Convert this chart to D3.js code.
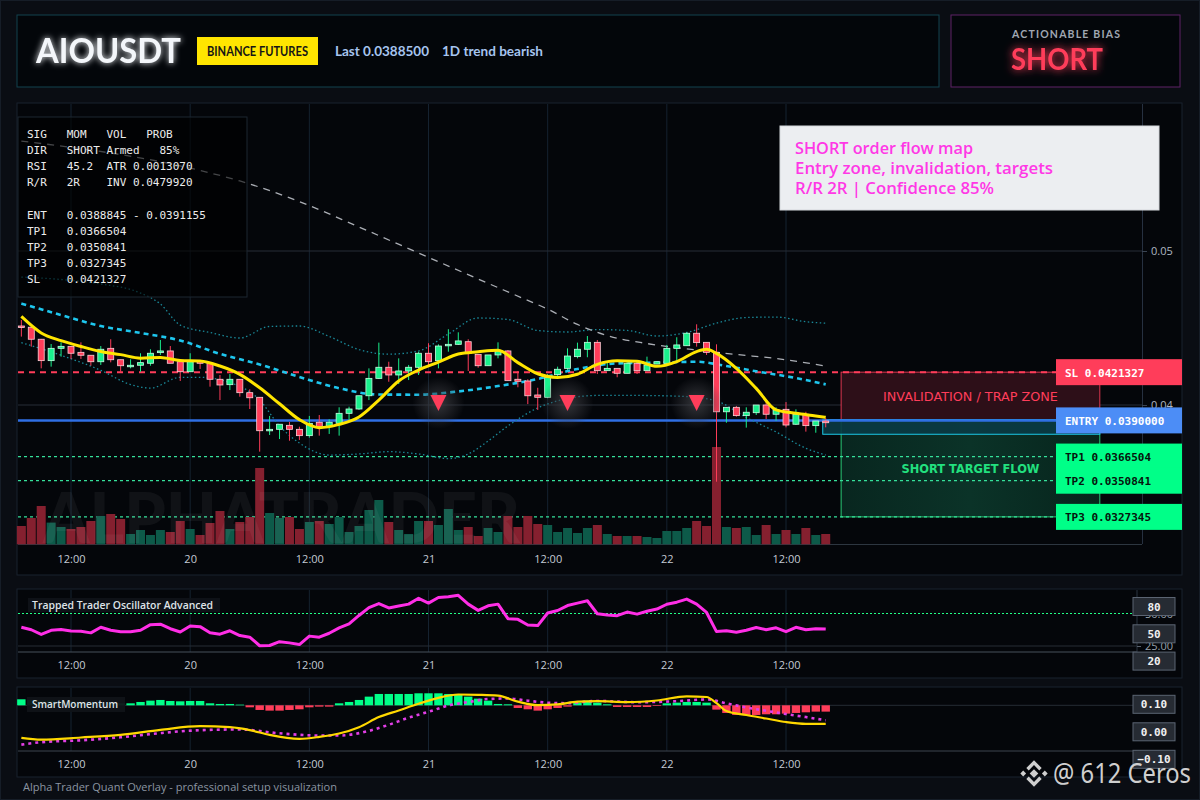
<!DOCTYPE html>
<html>
<head>
<meta charset="utf-8">
<script src="https://cdn.jsdelivr.net/npm/d3@7"></script>
<style>
  body { margin: 0; background: #0a0d13; }
  svg text { font-family: "Open Sans", "DejaVu Sans", sans-serif; }
</style>
</head>
<body>
<div id="chart"></div>
<script>
// hourly candles, 19th 07:00 -> 22nd 16:00
var opens = [0.04513,0.04505,0.04427,0.04288,0.04368,0.04381,0.04342,0.04323,0.04281,0.04368,0.04294,0.04255,0.04258,0.04271,0.04340,0.04351,0.04281,0.04216,0.04286,0.04271,0.04167,0.04132,0.04167,0.04080,0.04050,0.03838,0.03842,0.03868,0.03842,0.03801,0.03888,0.03859,0.03881,0.03946,0.03974,0.04060,0.04173,0.04245,0.04195,0.04221,0.04245,0.04336,0.04288,0.04385,0.04394,0.04411,0.04329,0.04255,0.04325,0.04351,0.04167,0.04156,0.04065,0.04050,0.04197,0.04238,0.04314,0.04362,0.04407,0.04223,0.04238,0.04206,0.04271,0.04223,0.04266,0.04271,0.04368,0.04385,0.04466,0.04407,0.04342,0.03956,0.03985,0.03931,0.03950,0.04000,0.03940,0.03972,0.03875,0.03940,0.03866,0.03896];
var highs = [0.04552,0.04506,0.04429,0.04396,0.04407,0.04381,0.04407,0.04323,0.04383,0.04427,0.04294,0.04297,0.04336,0.04362,0.04422,0.04383,0.04281,0.04336,0.04286,0.04271,0.04195,0.04201,0.04167,0.04102,0.04050,0.03929,0.03875,0.03890,0.03859,0.03929,0.03935,0.03907,0.03985,0.03989,0.04060,0.04238,0.04405,0.04281,0.04303,0.04260,0.04346,0.04401,0.04394,0.04492,0.04472,0.04427,0.04329,0.04325,0.04407,0.04357,0.04221,0.04167,0.04112,0.04201,0.04249,0.04368,0.04405,0.04448,0.04422,0.04277,0.04238,0.04281,0.04281,0.04314,0.04281,0.04390,0.04440,0.04472,0.04524,0.04407,0.04394,0.03985,0.03994,0.03985,0.04000,0.04032,0.03985,0.04019,0.03972,0.03956,0.03896,0.03914];
var lows = [0.04444,0.04379,0.04238,0.04249,0.04314,0.04299,0.04299,0.04255,0.04260,0.04277,0.04216,0.04238,0.04216,0.04255,0.04325,0.04271,0.04156,0.04216,0.04234,0.04119,0.04032,0.04097,0.04054,0.03974,0.03697,0.03805,0.03779,0.03768,0.03773,0.03788,0.03801,0.03812,0.03801,0.03903,0.03968,0.04032,0.04169,0.04151,0.04136,0.04162,0.04195,0.04249,0.04238,0.04346,0.04390,0.04221,0.04242,0.04255,0.04303,0.04158,0.04115,0.04006,0.03968,0.04044,0.04188,0.04227,0.04303,0.04310,0.04201,0.04223,0.04180,0.04206,0.04201,0.04223,0.04266,0.04266,0.04288,0.04385,0.04379,0.04325,0.03502,0.03885,0.03924,0.03853,0.03935,0.03909,0.03898,0.03855,0.03870,0.03827,0.03820,0.03855];
var closes = [0.04505,0.04427,0.04288,0.04368,0.04381,0.04336,0.04323,0.04281,0.04362,0.04294,0.04255,0.04258,0.04275,0.04336,0.04351,0.04271,0.04216,0.04281,0.04271,0.04167,0.04130,0.04167,0.04080,0.04047,0.03833,0.03842,0.03875,0.03842,0.03801,0.03881,0.03859,0.03888,0.03946,0.03974,0.04060,0.04173,0.04245,0.04195,0.04221,0.04245,0.04336,0.04281,0.04383,0.04394,0.04416,0.04336,0.04255,0.04325,0.04351,0.04158,0.04154,0.04060,0.04050,0.04180,0.04232,0.04318,0.04362,0.04407,0.04223,0.04238,0.04206,0.04271,0.04223,0.04260,0.04281,0.04368,0.04390,0.04466,0.04405,0.04342,0.03956,0.03985,0.03931,0.03953,0.04000,0.03940,0.03968,0.03870,0.03940,0.03866,0.03896,0.03885];
var volumes = [183,263,383,217,173,153,173,233,283,303,253,103,143,93,143,123,233,153,93,213,333,153,223,273,763,313,263,273,153,223,233,203,273,123,183,343,443,223,143,103,233,233,193,353,143,173,83,163,123,283,173,283,203,193,123,163,113,163,193,103,83,83,83,73,63,133,133,163,233,183,973,173,163,173,93,193,103,143,103,163,93,103];

// overlays: [candle index, price]
var emaFast = [[0,0.04575],[2,0.04468],[4,0.04418],[6,0.04380],[8,0.04347],[10,0.04327],[12,0.04304],[14,0.04309],[16,0.04289],[18,0.04286],[20,0.04253],[22,0.04199],[24,0.04112],[26,0.04008],[28,0.03905],[30,0.03853],[32,0.03874],[34,0.03922],[36,0.04032],[38,0.04156],[40,0.04227],[42,0.04278],[44,0.04331],[46,0.04346],[48,0.04356],[50,0.04275],[52,0.04203],[54,0.04179],[56,0.04200],[58,0.04264],[60,0.04287],[62,0.04284],[64,0.04251],[66,0.04282],[68,0.04347],[69,0.04362],[70,0.04335],[72,0.04238],[74,0.04108],[76,0.03968],[78,0.03946],[80,0.03929],[81,0.03920]];
var emaSlow = [[0,0.04659],[4,0.04584],[8,0.04513],[12,0.04468],[16,0.04419],[20,0.04332],[24,0.04263],[28,0.04182],[32,0.04109],[36,0.04068],[40,0.04067],[44,0.04088],[48,0.04123],[52,0.04169],[56,0.04234],[60,0.04270],[64,0.04275],[68,0.04281],[71,0.04253],[74,0.04219],[78,0.04175],[81,0.04134]];
var bandUpper = [[0,0.04831],[4,0.04815],[8,0.04786],[12,0.04727],[14,0.04656],[16,0.04519],[19,0.04471],[22,0.04435],[25,0.04510],[28,0.04513],[31,0.04445],[34,0.04360],[37,0.04330],[40,0.04351],[43,0.04461],[46,0.04565],[49,0.04555],[52,0.04484],[55,0.04474],[58,0.04490],[61,0.04484],[64,0.04448],[67,0.04471],[70,0.04532],[73,0.04568],[76,0.04571],[79,0.04541],[81,0.04531]];
var bandLower = [[0,0.04405],[4,0.04323],[8,0.04225],[11,0.04133],[13,0.04110],[16,0.04180],[18,0.04180],[21,0.04146],[24,0.04032],[26,0.03864],[28,0.03753],[31,0.03675],[34,0.03682],[37,0.03697],[40,0.03682],[43,0.03652],[45,0.03682],[47,0.03766],[49,0.03864],[52,0.03981],[55,0.04042],[58,0.04062],[62,0.04062],[67,0.04055],[70,0.04026],[73,0.03919],[76,0.03825],[79,0.03719],[81,0.03675]];
var trendMA = [[0,0.05714],[18,0.05523],[22,0.05455],[28,0.05321],[34,0.05156],[40,0.04987],[46,0.04818],[51,0.04679],[53,0.04623],[56,0.04523],[59,0.04451],[63,0.04399],[68,0.04357],[72,0.04328],[76,0.04302],[81,0.04253]];

var signalIdx = [42, 55, 68];
var signalPrice = 0.04013;

var levelNames = ['SL', 'ENTRY', 'TP1', 'TP2', 'TP3'];
var levelPrices = [0.0421327, 0.0390000, 0.0366504, 0.0350841, 0.0327345];
var entryZone = [0.03810, 0.03905];

// Trapped Trader Oscillator, one value per candle
var oscValues = [39.4,37.5,33.9,37.1,37.7,36.6,36.4,35.1,39.4,37.1,36.0,36.0,37.1,41.4,41.8,38.3,35.8,40.4,39.9,35.2,34.1,36.7,33.0,31.8,25.2,25.4,28.3,27.4,26.1,32.6,31.8,34.8,38.9,42.0,48.5,54.5,57.6,54.3,55.8,57.2,61.7,58.0,62.3,62.9,64.0,57.2,52.4,55.9,57.2,46.0,45.5,41.1,40.7,50.4,52.3,56.1,58.0,59.8,49.8,48.8,48.3,51.1,49.5,51.7,53.4,57.1,58.7,61.1,57.2,50.8,36.1,36.7,35.6,37.1,39.2,37.5,39.0,36.0,39.4,37.5,38.3,38.1];
var oscLevel = 50;
var oscTicks = [25, 50];
var oscBoxes = ['80', '50', '20'];

// SmartMomentum
var momHist = [0.009,0.008,0.007,0.007,0.006,0.006,0.005,0.005,0.004,0.004,0.003,0.003,0.005,0.007,0.008,0.0065,0.006,0.0065,0.0065,0.003,0.002,0.002,0.001,-0.003,-0.007,-0.008,-0.008,-0.007,-0.006,-0.003,-0.002,-0.002,0.003,0.005,0.008,0.013,0.017,0.017,0.017,0.017,0.018,0.018,0.018,0.017,0.0155,0.013,0.010,0.007,0.002,0.0015,-0.004,-0.006,-0.008,-0.006,-0.004,-0.002,0.004,0.007,0.004,0.0015,-0.0025,-0.0025,-0.0025,-0.0025,-0.001,0.003,0.004,0.005,0.005,0.004,-0.0065,-0.0115,-0.0145,-0.0145,-0.0145,-0.0135,-0.0135,-0.0125,-0.0115,-0.0105,-0.0095,-0.0095];
var momLine = [[0,-0.0222],[2,-0.0287],[6,-0.0207],[10,-0.0109],[14,0.0069],[18,0.0204],[21,0.0167],[23,0.0062],[25,-0.0113],[28,-0.0255],[30,-0.0185],[32,-0.0062],[34,0.0167],[36,0.0535],[38,0.0775],[40,0.1018],[42,0.1236],[44,0.1356],[46,0.1345],[48,0.1316],[50,0.1095],[52,0.0967],[54,0.0996],[56,0.1095],[58,0.1116],[61,0.1080],[64,0.1138],[67,0.1291],[69,0.1265],[70,0.1044],[71,0.0756],[73,0.0611],[75,0.0484],[77,0.0356],[79,0.0291],[81,0.0291]];
var momSignal = [[0,-0.0465],[2,-0.0378],[6,-0.0309],[10,-0.0200],[14,-0.0047],[18,0.0058],[22,0.0084],[26,-0.0055],[30,-0.0135],[32,-0.0135],[35,0.0033],[37,0.0255],[39,0.0513],[41,0.0727],[43,0.0956],[45,0.1080],[47,0.1193],[49,0.1211],[51,0.1131],[53,0.1058],[55,0.1040],[58,0.1120],[62,0.1076],[66,0.1113],[69,0.1175],[71,0.1036],[73,0.0884],[75,0.0764],[77,0.0644],[79,0.0535],[81,0.0418]];
var momTicks = [0.10, 0.00, -0.10];

var infoLines = [
  'SIG   MOM   VOL   PROB',
  'DIR   SHORT Armed   85%',
  'RSI   45.2  ATR 0.0013070',
  'R/R   2R    INV 0.0479920',
  '',
  'ENT   0.0388845 - 0.0391155',
  'TP1   0.0366504',
  'TP2   0.0350841',
  'TP3   0.0327345',
  'SL    0.0421327'
];
var noteLines = ['SHORT order flow map', 'Entry zone, invalidation, targets', 'R/R 2R | Confidence 85%'];

buildChart();

function buildChart(){
  var W = 1200, H = 800;
  var HOUR = 36e5;
  var t0 = Date.UTC(2025, 0, 19, 7);
  var times = opens.map(function(d, i){ return new Date(t0 + i * HOUR); });
  function tAt(i){ return new Date(t0 + i * HOUR); }

  var green = '#19f08c', red = '#ff3d5a';
  var mono = '"DejaVu Sans Mono", monospace';

  var svg = d3.select('#chart').append('svg')
    .attr('width', W).attr('height', H);

  var defs = svg.append('defs');
  function glow(id, std){
    var f = defs.append('filter').attr('id', id)
      .attr('x', '-50%').attr('y', '-50%').attr('width', '200%').attr('height', '200%');
    f.append('feGaussianBlur').attr('stdDeviation', std).attr('result', 'b');
    var m = f.append('feMerge');
    m.append('feMergeNode').attr('in', 'b');
    m.append('feMergeNode').attr('in', 'SourceGraphic');
  }
  glow('glowSoft', 3);
  glow('glowRed', 4);
  var rg = defs.append('radialGradient').attr('id', 'sigGlow');
  rg.append('stop').attr('offset', '0%').attr('stop-color', '#3a3b40').attr('stop-opacity', 0.9);
  rg.append('stop').attr('offset', '100%').attr('stop-color', '#3a3b40').attr('stop-opacity', 0);
  var tg = defs.append('linearGradient').attr('id', 'tgtFill');
  tg.append('stop').attr('offset', '0%').attr('stop-color', '#08261f');
  tg.append('stop').attr('offset', '50%').attr('stop-color', '#0b3328');
  tg.append('stop').attr('offset', '100%').attr('stop-color', '#07241c');

  // scales
  var x = d3.scaleUtc()
    .domain([new Date(Date.UTC(2025, 0, 19, 12)), new Date(Date.UTC(2025, 0, 22, 12))])
    .range([71, 786]);
  var y = d3.scaleLinear().domain([0.04, 0.05]).range([405, 251]);
  var yVol = d3.scaleLinear().domain([0, 1000]).range([544.3, 444.3]);
  var yOsc = d3.scaleLinear().domain([25, 50]).range([646, 613.5]);
  var yMom = d3.scaleLinear().domain([-0.1, 0.1]).range([759.3, 704.3]);
  var yHist = d3.scaleLinear().domain([0, 0.018]).range([705.3, 693.3]);
  var tickTimes = x.ticks(d3.utcHour.every(12));

  // background + frames
  svg.append('rect').attr('width', W).attr('height', H).attr('fill', '#0a0d13');
  svg.append('rect').attr('x', 0.5).attr('y', 0.5).attr('width', W - 1).attr('height', H - 1)
    .attr('fill', 'none').attr('stroke', '#161d27');

  svg.append('rect').attr('x', 17).attr('y', 15).attr('width', 922).attr('height', 72)
    .attr('fill', '#03060a').attr('stroke', '#12434f');
  svg.append('rect').attr('x', 951).attr('y', 15).attr('width', 229).attr('height', 72)
    .attr('fill', '#03060a').attr('stroke', '#5e2266');

  var panels = [[103, 472], [589, 89], [687, 90]];
  panels.forEach(function(p){
    svg.append('rect').attr('x', 17).attr('y', p[0]).attr('width', 1165).attr('height', p[1])
      .attr('fill', '#04060a').attr('stroke', '#18222e');
  });

  // header texts
  svg.append('text').attr('x', 36).attr('y', 63).text('AIOUSDT')
    .attr('textLength', 145).attr('lengthAdjust', 'spacingAndGlyphs')
    .style('font-family', 'Lato, sans-serif').style('font-weight', 700).style('font-size', '35px')
    .attr('fill', '#f3f6fa').attr('filter', 'url(#glowSoft)');
  svg.append('rect').attr('x', 197).attr('y', 37).attr('width', 121).attr('height', 28).attr('fill', '#ffe500');
  svg.append('text').attr('x', 257.5).attr('y', 55.5).attr('text-anchor', 'middle').text('BINANCE FUTURES')
    .attr('textLength', 101).attr('lengthAdjust', 'spacingAndGlyphs')
    .style('font-family', 'Lato, sans-serif').style('font-weight', 700).style('font-size', '13px').attr('fill', '#151515');
  svg.append('text').attr('x', 335).attr('y', 56).text('Last 0.0388500')
    .attr('textLength', 94).attr('lengthAdjust', 'spacingAndGlyphs')
    .style('font-family', 'Lato, sans-serif').style('font-weight', 700).style('font-size', '14px').attr('fill', '#a6c4ef');
  svg.append('text').attr('x', 442).attr('y', 56).text('1D trend bearish')
    .attr('textLength', 101).attr('lengthAdjust', 'spacingAndGlyphs')
    .style('font-family', 'Lato, sans-serif').style('font-weight', 700).style('font-size', '14px').attr('fill', '#a6c4ef');

  svg.append('text').attr('x', 1066).attr('y', 38).attr('text-anchor', 'middle').text('ACTIONABLE BIAS')
    .attr('textLength', 108).attr('lengthAdjust', 'spacing')
    .style('font-family', 'Lato, sans-serif').style('font-weight', 700).style('font-size', '10.5px').attr('fill', '#a0a7b2');
  svg.append('text').attr('x', 1057).attr('y', 70).attr('text-anchor', 'middle').text('SHORT')
    .attr('textLength', 92).attr('lengthAdjust', 'spacingAndGlyphs')
    .style('font-family', 'Lato, sans-serif').style('font-weight', 700).style('font-size', '31px')
    .attr('fill', red).attr('filter', 'url(#glowRed)');

  // ---------- main chart ----------
  var main = svg.append('g');

  main.selectAll('.vgrid').data(tickTimes).enter().append('line')
    .attr('x1', x).attr('x2', x).attr('y1', 104).attr('y2', 544)
    .attr('stroke', '#152230').attr('stroke-width', 1);
  main.selectAll('.hgrid').data([0.04, 0.05]).enter().append('line')
    .attr('x1', 18).attr('x2', 1142).attr('y1', y).attr('y2', y)
    .attr('stroke', '#262c36').attr('stroke-width', 1);
  main.append('line').attr('x1', 18).attr('x2', 1142).attr('y1', 544.5).attr('y2', 544.5).attr('stroke', '#2d3640');
  main.append('line').attr('x1', 1142.5).attr('x2', 1142.5).attr('y1', 104).attr('y2', 544).attr('stroke', '#263040');

  var yAxis = main.append('g').attr('transform', 'translate(1142,0)')
    .call(d3.axisRight(y).tickValues([0.04, 0.05]).tickFormat(d3.format('.2f')).tickSize(5).tickPadding(4));
  yAxis.select('.domain').remove();
  yAxis.selectAll('line').attr('stroke', '#3a4452');
  yAxis.selectAll('text').attr('fill', '#aeb6c1').style('font-size', '11px');

  var xAxis = main.append('g').attr('transform', 'translate(0,544)')
    .call(d3.axisBottom(x).tickValues(tickTimes).tickFormat(fmtTime).tickSize(0).tickPadding(11));
  styleTimeAxis(xAxis);

  // zones
  var zoneX0 = x(tAt(81 + 1.55)), zoneX1 = x(tAt(81 + 27.6));
  main.append('rect').attr('x', zoneX0).attr('width', zoneX1 - zoneX0)
    .attr('y', y(levelPrices[0])).attr('height', y(levelPrices[1]) - y(levelPrices[0]))
    .attr('fill', '#2d0f18').attr('stroke', red).attr('stroke-width', 1).attr('stroke-opacity', 0.85);
  main.append('rect').attr('x', zoneX0).attr('width', zoneX1 - zoneX0)
    .attr('y', y(levelPrices[1])).attr('height', y(levelPrices[4]) - y(levelPrices[1]))
    .attr('fill', 'url(#tgtFill)').attr('stroke', '#2ee886').attr('stroke-width', 1).attr('stroke-opacity', 0.85);
  var entX0 = x(tAt(81 - 0.3));
  main.append('rect').attr('x', entX0).attr('width', zoneX1 - entX0)
    .attr('y', y(entryZone[1])).attr('height', y(entryZone[0]) - y(entryZone[1]))
    .attr('fill', '#0a3a44').attr('fill-opacity', 0.9).attr('stroke', '#1cc8e6').attr('stroke-width', 1);
  main.append('text').attr('x', (zoneX0 + zoneX1) / 2).attr('y', 401).attr('text-anchor', 'middle')
    .text('INVALIDATION / TRAP ZONE').attr('textLength', 175).attr('lengthAdjust', 'spacingAndGlyphs')
    .style('font-family', '"DejaVu Sans", sans-serif').style('font-size', '13px').attr('fill', red);
  main.append('text').attr('x', (zoneX0 + zoneX1) / 2).attr('y', 473).attr('text-anchor', 'middle')
    .text('SHORT TARGET FLOW').attr('textLength', 138).attr('lengthAdjust', 'spacingAndGlyphs')
    .style('font-family', '"DejaVu Sans", sans-serif').style('font-weight', 700).style('font-size', '13px').attr('fill', '#22e07f');

  // level lines
  var lvlEnd = 1056;
  main.append('line').attr('x1', 18).attr('x2', lvlEnd).attr('y1', y(levelPrices[0])).attr('y2', y(levelPrices[0]))
    .attr('stroke', red).attr('stroke-width', 2).attr('stroke-dasharray', '6,5');
  main.selectAll('.tpline').data(levelPrices.slice(2)).enter().append('line')
    .attr('x1', 18).attr('x2', lvlEnd).attr('y1', y).attr('y2', y)
    .attr('stroke', '#35e09a').attr('stroke-width', 1.2).attr('stroke-dasharray', '3,3');
  main.append('line').attr('x1', 18).attr('x2', lvlEnd).attr('y1', y(levelPrices[1])).attr('y2', y(levelPrices[1]))
    .attr('stroke', '#2f6fe4').attr('stroke-width', 2.5);

  // bollinger bands, slow lines
  function sparse(scale){
    return d3.line().x(function(d){ return x(tAt(d[0])); }).y(function(d){ return scale(d[1]); }).curve(d3.curveMonotoneX);
  }
  [bandUpper, bandLower].forEach(function(b){
    main.append('path').attr('d', sparse(y)(b)).attr('fill', 'none')
      .attr('stroke', '#1a8898').attr('stroke-width', 1.3).attr('stroke-dasharray', '1.5,2.5');
  });

  // volume
  main.selectAll('.vol').data(volumes).enter().append('rect')
    .attr('x', function(d, i){ return x(times[i]) - 4.5; })
    .attr('width', 9)
    .attr('y', function(d){ return yVol(d); })
    .attr('height', function(d){ return yVol(0) - yVol(d); })
    .attr('fill', function(d, i){ return closes[i] >= opens[i] ? '#0d5a49' : '#85202f'; });

  // watermark
  main.append('text').attr('x', 43).attr('y', 543).text('ALPHATRADER')
    .attr('textLength', 477).attr('lengthAdjust', 'spacingAndGlyphs')
    .style('font-family', 'Lato, sans-serif').style('font-weight', 900).style('font-size', '70px')
    .attr('fill', '#ffffff').attr('fill-opacity', 0.05);

  main.append('path').attr('d', sparse(y)(trendMA)).attr('fill', 'none')
    .attr('stroke', '#c9cdd3').attr('stroke-opacity', 0.85).attr('stroke-width', 1.3).attr('stroke-dasharray', '7,6');
  main.append('path').attr('d', sparse(y)(emaSlow)).attr('fill', 'none')
    .attr('stroke', '#1ec6ee').attr('stroke-width', 2.6).attr('stroke-dasharray', '5,4');

  // candles
  var cg = main.selectAll('.candle').data(opens).enter().append('g');
  cg.append('line')
    .attr('x1', function(d, i){ return x(times[i]); }).attr('x2', function(d, i){ return x(times[i]); })
    .attr('y1', function(d, i){ return y(highs[i]); }).attr('y2', function(d, i){ return y(lows[i]); })
    .attr('stroke', function(d, i){ return closes[i] >= opens[i] ? green : red; }).attr('stroke-width', 1);
  cg.append('rect')
    .attr('x', function(d, i){ return x(times[i]) - 3; }).attr('width', 6)
    .attr('y', function(d, i){ return y(Math.max(opens[i], closes[i])); })
    .attr('height', function(d, i){ return Math.max(1.5, Math.abs(y(opens[i]) - y(closes[i]))); })
    .attr('fill', function(d, i){ return closes[i] >= opens[i] ? green : red; })
    .attr('stroke', function(d, i){ return closes[i] >= opens[i] ? '#c6ffe2' : '#ffd0d8'; })
    .attr('stroke-width', 0.8);

  main.append('path').attr('d', sparse(y)(emaFast)).attr('fill', 'none')
    .attr('stroke', '#ffe500').attr('stroke-width', 3);

  // signals
  var sg = main.selectAll('.sig').data(signalIdx).enter().append('g')
    .attr('transform', function(d){ return 'translate(' + x(times[d]) + ',' + y(signalPrice) + ')'; });
  sg.append('circle').attr('r', 26).attr('fill', 'url(#sigGlow)');
  sg.append('path').attr('d', 'M-8,-8L8,-8L0,8Z').attr('fill', '#ff3d5a');

  // right-side level labels
  var lblColor = ['#ff3d5a', '#4c8df6', '#00ff88', '#00ff88', '#00ff88'];
  var lblText = ['#ffffff', '#ffffff', '#06140c', '#06140c', '#06140c'];
  var lg = main.selectAll('.lvl').data(levelNames).enter().append('g')
    .attr('transform', function(d, i){ return 'translate(1056,' + y(levelPrices[i]) + ')'; });
  lg.append('rect').attr('x', 0).attr('y', -13).attr('width', 126).attr('height', 26)
    .attr('fill', function(d, i){ return lblColor[i]; });
  lg.append('text').attr('x', 9).attr('y', 4.5)
    .text(function(d, i){ return d + ' ' + levelPrices[i].toFixed(7); })
    .style('font-family', mono).style('font-weight', 700).style('font-size', '11px')
    .attr('fill', function(d, i){ return lblText[i]; });

  // info panel
  main.append('rect').attr('x', 18).attr('y', 117).attr('width', 229).attr('height', 180)
    .attr('fill', '#000000').attr('fill-opacity', 0.6).attr('stroke', '#1c2630');
  main.selectAll('.info').data(infoLines).enter().append('text')
    .attr('x', 27).attr('y', function(d, i){ return 138 + i * 16.15; })
    .attr('xml:space', 'preserve').style('white-space', 'pre')
    .text(function(d){ return d; })
    .style('font-family', mono).style('font-size', '11px').attr('fill', '#ececec');

  // note box
  main.append('rect').attr('x', 780).attr('y', 126).attr('width', 379).attr('height', 84)
    .attr('fill', '#eceef1').attr('stroke', '#d4d7db');
  var noteW = [178, 258, 199];
  main.selectAll('.note').data(noteLines).enter().append('text')
    .attr('x', 795).attr('y', function(d, i){ return 153.5 + i * 20.3; })
    .text(function(d){ return d; })
    .attr('textLength', function(d, i){ return noteW[i]; }).attr('lengthAdjust', 'spacingAndGlyphs')
    .style('font-family', '"Open Sans", sans-serif').style('font-weight', 600).style('font-size', '16px').attr('fill', '#ff38e6');

  // ---------- oscillator ----------
  var osc = svg.append('g');
  osc.selectAll('.vgrid').data(tickTimes).enter().append('line')
    .attr('x1', x).attr('x2', x).attr('y1', 590).attr('y2', 652).attr('stroke', '#152230');
  osc.append('line').attr('x1', 18).attr('x2', 1137).attr('y1', yOsc(25)).attr('y2', yOsc(25)).attr('stroke', '#262c34');
  osc.append('line').attr('x1', 18).attr('x2', 1137).attr('y1', 652).attr('y2', 652).attr('stroke', '#46505a');
  osc.append('line').attr('x1', 1137).attr('x2', 1137).attr('y1', 590).attr('y2', 652).attr('stroke', '#2a3440');
  var oAxis = osc.append('g').attr('transform', 'translate(1137,0)')
    .call(d3.axisRight(yOsc).tickValues(oscTicks).tickFormat(d3.format('.2f')).tickSize(4).tickPadding(4));
  oAxis.select('.domain').remove();
  oAxis.selectAll('line').attr('stroke', '#5a6470');
  oAxis.selectAll('text').attr('fill', '#9aa3ad').style('font-size', '11px');
  osc.append('line').attr('x1', 18).attr('x2', 1133).attr('y1', yOsc(oscLevel)).attr('y2', yOsc(oscLevel))
    .attr('stroke', '#22ff88').attr('stroke-width', 1.2).attr('stroke-dasharray', '2,2');
  osc.append('path').datum(oscValues)
    .attr('d', d3.line().x(function(d, i){ return x(times[i]); }).y(function(d){ return yOsc(d); }))
    .attr('fill', 'none').attr('stroke', '#ff2ee6').attr('stroke-width', 3).attr('stroke-linejoin', 'round');
  var oX = osc.append('g').attr('transform', 'translate(0,652)')
    .call(d3.axisBottom(x).tickValues(tickTimes).tickFormat(fmtTime).tickSize(0).tickPadding(9));
  styleTimeAxis(oX);
  osc.append('rect').attr('x', 28).attr('y', 598).attr('width', 192).attr('height', 14)
    .attr('fill', '#101318').attr('fill-opacity', 0.9);
  osc.append('text').attr('x', 32).attr('y', 609).text('Trapped Trader Oscillator Advanced')
    .attr('textLength', 181).attr('lengthAdjust', 'spacingAndGlyphs')
    .style('font-size', '11px').style('font-weight', 600).attr('fill', '#dfe3e8');
  var ob = osc.selectAll('.obox').data(oscBoxes).enter().append('g')
    .attr('transform', function(d, i){ return 'translate(1133,' + (606.5 + i * 27.3) + ')'; });
  ob.append('rect').attr('x', 0).attr('y', -9).attr('width', 42).attr('height', 18)
    .attr('fill', '#262b33').attr('stroke', '#5b6472');
  ob.append('text').attr('x', 21).attr('y', 4).attr('text-anchor', 'middle').text(function(d){ return d; })
    .style('font-family', mono).style('font-weight', 700).style('font-size', '11px').attr('fill', '#f0f0f0');

  // ---------- SmartMomentum ----------
  var mom = svg.append('g');
  mom.selectAll('.vgrid').data(tickTimes).enter().append('line')
    .attr('x1', x).attr('x2', x).attr('y1', 688).attr('y2', 751).attr('stroke', '#152230');
  mom.append('line').attr('x1', 18).attr('x2', 1133).attr('y1', yHist(0)).attr('y2', yHist(0)).attr('stroke', '#262c34');
  mom.append('line').attr('x1', 18).attr('x2', 1137).attr('y1', 751).attr('y2', 751).attr('stroke', '#3c454f');
  mom.selectAll('.hist').data(momHist).enter().append('rect')
    .attr('x', function(d, i){ return x(times[i]) - 4.2; }).attr('width', 8.4)
    .attr('y', function(d){ return Math.min(yHist(d), yHist(0)); })
    .attr('height', function(d){ return Math.abs(yHist(d) - yHist(0)); })
    .attr('fill', function(d){ return d >= 0 ? '#00ff88' : '#ff3d5a'; });
  mom.append('path').attr('d', sparse(yMom)(momSignal)).attr('fill', 'none')
    .attr('stroke', '#e23ee6').attr('stroke-width', 2.6).attr('stroke-dasharray', '3,4');
  mom.append('path').attr('d', sparse(yMom)(momLine)).attr('fill', 'none')
    .attr('stroke', '#ffd800').attr('stroke-width', 2.2);
  var mX = mom.append('g').attr('transform', 'translate(0,751)')
    .call(d3.axisBottom(x).tickValues(tickTimes).tickFormat(fmtTime).tickSize(0).tickPadding(9));
  styleTimeAxis(mX);
  mom.append('rect').attr('x', 27).attr('y', 697).attr('width', 98).attr('height', 15)
    .attr('fill', '#101318').attr('fill-opacity', 0.95);
  mom.append('text').attr('x', 32).attr('y', 708).text('SmartMomentum')
    .attr('textLength', 86).attr('lengthAdjust', 'spacingAndGlyphs')
    .style('font-size', '11px').style('font-weight', 600).attr('fill', '#dfe3e8');
  var mb = mom.selectAll('.mbox').data(momTicks).enter().append('g')
    .attr('transform', function(d){ return 'translate(1133,' + yMom(d) + ')'; });
  mb.append('rect').attr('x', 0).attr('y', -9).attr('width', 42).attr('height', 18)
    .attr('fill', '#262b33').attr('stroke', '#5b6472');
  mb.append('text').attr('x', 21).attr('y', 4).attr('text-anchor', 'middle').text(d3.format('.2f'))
    .style('font-family', mono).style('font-weight', 700).style('font-size', '11px').attr('fill', '#f0f0f0');

  // footer
  svg.append('text').attr('x', 23).attr('y', 791).text('Alpha Trader Quant Overlay - professional setup visualization')
    .attr('textLength', 314).attr('lengthAdjust', 'spacingAndGlyphs')
    .style('font-size', '11px').attr('fill', '#8a95a2');

  // binance watermark
  var wm = svg.append('g').attr('transform', 'translate(1034,773.5) scale(1.2)').attr('fill', '#cfcfcf');
  wm.append('path').attr('d', 'M0,-3.6L3.6,0L0,3.6L-3.6,0Z');
  wm.append('path').attr('d', 'M-9,-2.4L-6.6,0L-9,2.4L-11.4,0Z');
  wm.append('path').attr('d', 'M9,-2.4L11.4,0L9,2.4L6.6,0Z');
  wm.append('path').attr('d', 'M-6.4,-4.6L0,-11L6.4,-4.6L4.4,-2.6L0,-7L-4.4,-2.6Z');
  wm.append('path').attr('d', 'M-6.4,4.6L0,11L6.4,4.6L4.4,2.6L0,7L-4.4,2.6Z');
  svg.append('text').attr('x', 1053).attr('y', 783).text('@ 612 Ceros')
    .attr('textLength', 138).attr('lengthAdjust', 'spacingAndGlyphs')
    .style('font-family', '"Noto Sans", sans-serif').style('font-size', '27px').attr('fill', '#cfcfcf');

  function fmtTime(d){
    return d.getUTCHours() === 0 ? d3.utcFormat('%-d')(d) : d3.utcFormat('%H:%M')(d);
  }
  function styleTimeAxis(g){
    g.select('.domain').remove();
    g.selectAll('text').attr('fill', '#c3cad4').style('font-size', '11px');
  }
}
</script>
</body>
</html>
